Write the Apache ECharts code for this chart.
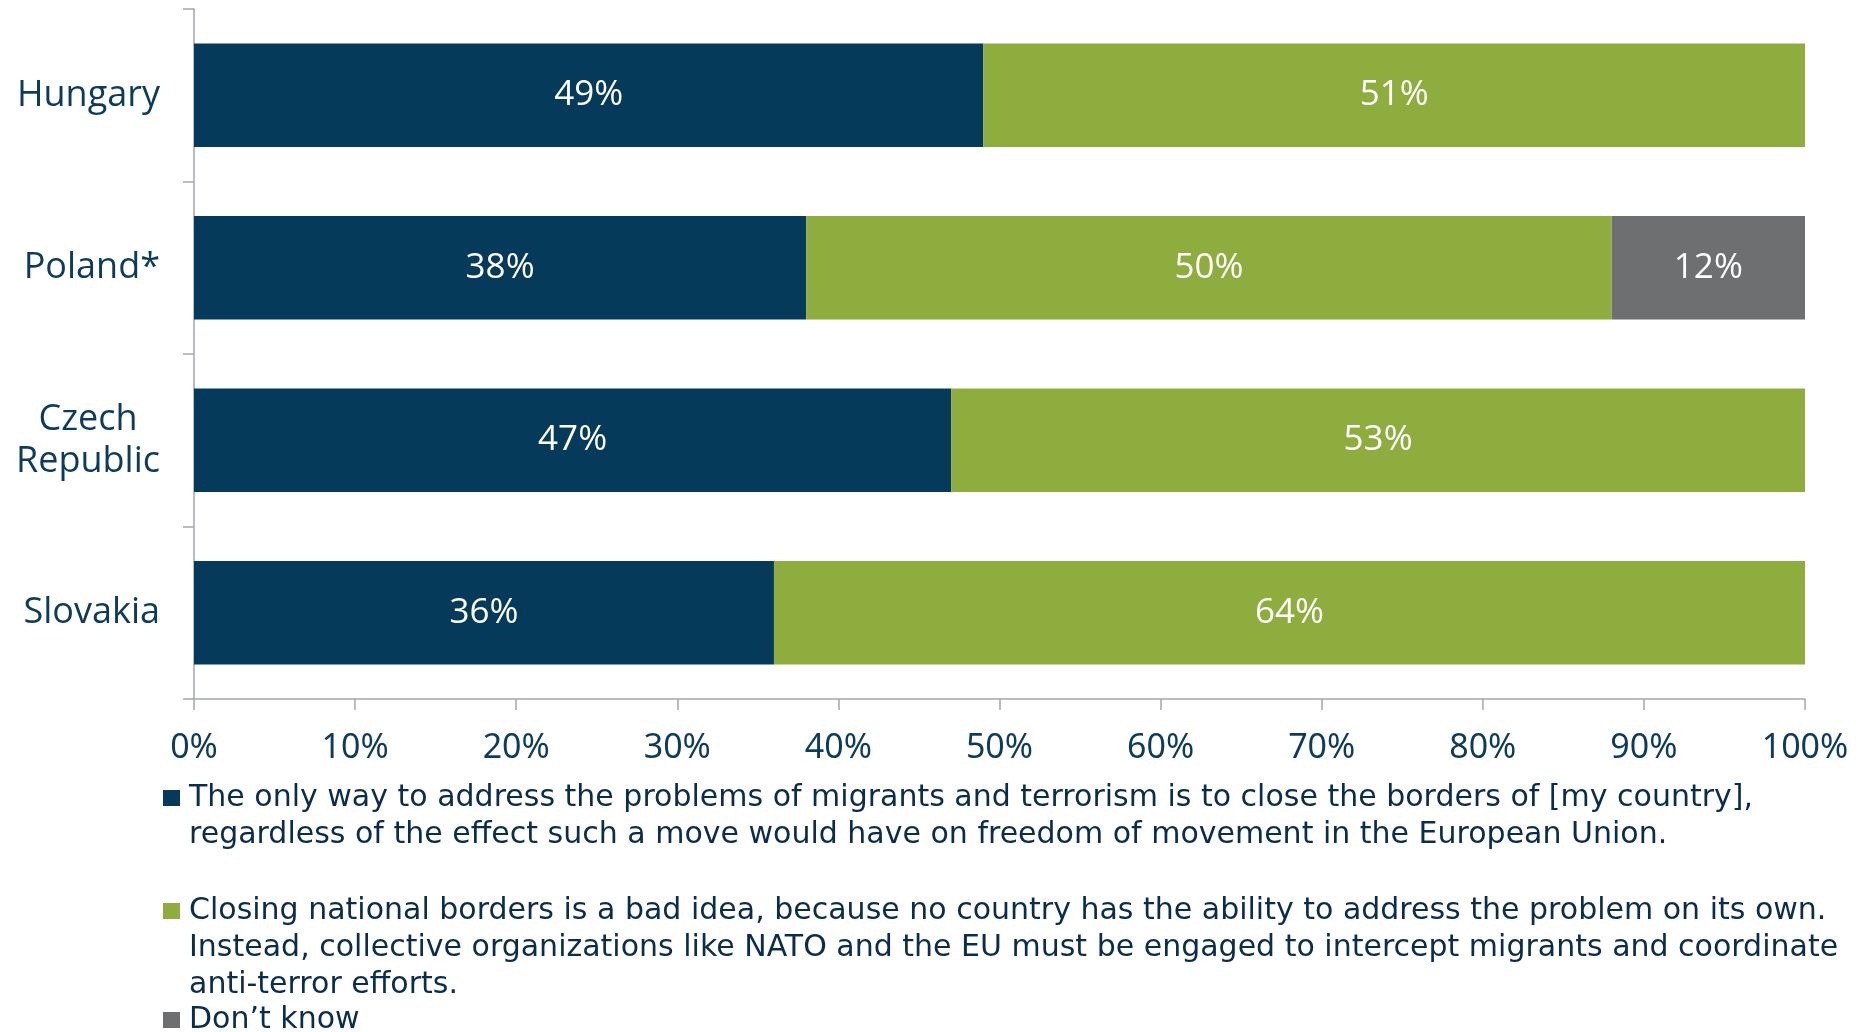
<!DOCTYPE html>
<html>
<head>
<meta charset="utf-8">
<script src="https://cdn.jsdelivr.net/npm/echarts@6/dist/echarts.min.js"></script>
<style>
html,body{margin:0;padding:0;background:#fff;}
#chart{width:1860px;height:1032px;}
</style>
</head>
<body>
<div id="chart"></div>
<script>
const categories = ['Hungary', 'Poland*', 'Czech\nRepublic', 'Slovakia'];
const closeBorders = [49, 38, 47, 36];
const collective = [51, 50, 53, 64];
const dontKnow = [null, 12, null, null];
const xTickLabels = ['0%', '10%', '20%', '30%', '40%', '50%', '60%', '70%', '80%', '90%', '100%'];
const legendLines = [
  ['The only way to address the problems of migrants and terrorism is to close the borders of [my country],',
   'regardless of the effect such a move would have on freedom of movement in the European Union.'],
  ['Closing national borders is a bad idea, because no country has the ability to address the problem on its own.',
   'Instead, collective organizations like NATO and the EU must be engaged to intercept migrants and coordinate',
   'anti-terror efforts.'],
  ['Don\u2019t know']
];
const seriesNames = legendLines.map(l => l.join(' '));
const colors = ['#053A5B', '#8FAD3E', '#6E6F71'];

const textColor = '#0D3B5E';
const legendColor = '#0B2D4D';
const axisColor = '#A2A6AE';
const LH = 37;

function makeLegend(idx, top) {
  const lines = legendLines[idx];
  const pad = new Array(lines.length - 1).fill('');
  return {
    show: true,
    orient: 'vertical',
    left: 163,
    top: top,
    padding: 0,
    itemWidth: 17,
    itemHeight: 16,
    icon: 'rect',
    selectedMode: false,
    data: [seriesNames[idx]],
    formatter: function () { return pad.concat(lines).join('\n'); },
    textStyle: {
      fontFamily: 'DejaVu Sans',
      fontSize: 30,
      lineHeight: LH,
      color: legendColor,
      padding: [0, 0, 0, 4]
    }
  };
}

const chart = echarts.init(document.getElementById('chart'), null, {renderer: 'canvas'});
const labelStyle = {
  show: true,
  position: 'inside',
  color: '#FFFFFF',
  fontFamily: 'Open Sans',
  fontWeight: 500,
  fontSize: 35,
  formatter: function (p) { return p.value == null ? '' : p.value + '%'; }
};
const data = [closeBorders, collective, dontKnow];
chart.setOption({
  backgroundColor: '#FFFFFF',
  animation: false,
  grid: {left: 194, right: 55, top: 9, bottom: 333, containLabel: false},
  legend: [
    makeLegend(0, 798 - LH / 2 - LH * 1),
    makeLegend(1, 911 - LH / 2 - LH * 2),
    makeLegend(2, 1020 - LH / 2)
  ],
  xAxis: {
    type: 'value',
    min: 0,
    max: 100,
    interval: 10,
    splitLine: {show: false},
    axisLine: {show: true, lineStyle: {color: axisColor, width: 1.5}},
    axisTick: {show: true, length: 11, lineStyle: {color: axisColor, width: 1.5}},
    axisLabel: {
      margin: 32,
      color: textColor,
      fontFamily: "'Noto Sans', sans-serif",
      fontSize: 34,
      formatter: function (v) { return xTickLabels[Math.round(v / 10)]; }
    }
  },
  yAxis: {
    type: 'category',
    inverse: true,
    data: categories,
    axisLine: {show: true, lineStyle: {color: axisColor, width: 1.5}},
    axisTick: {show: true, length: 11, lineStyle: {color: axisColor, width: 1.5}},
    axisLabel: {
      margin: 34,
      align: 'right',
      color: textColor,
      fontFamily: 'Open Sans',
      fontWeight: 500,
      fontSize: 36,
      lineHeight: 42,
      formatter: function (v) { return v.split('\n').map(s => '{c|' + s + '}').join('\n'); },
      rich: {
        c: {align: 'center', color: textColor, fontFamily: 'Open Sans', fontWeight: 500, fontSize: 36, lineHeight: 42}
      }
    }
  },
  series: data.map((d, i) => ({
    name: seriesNames[i],
    type: 'bar',
    stack: 'total',
    barCategoryGap: '40%',
    itemStyle: {color: colors[i]},
    label: labelStyle,
    data: d
  }))
});
</script>
</body>
</html>
